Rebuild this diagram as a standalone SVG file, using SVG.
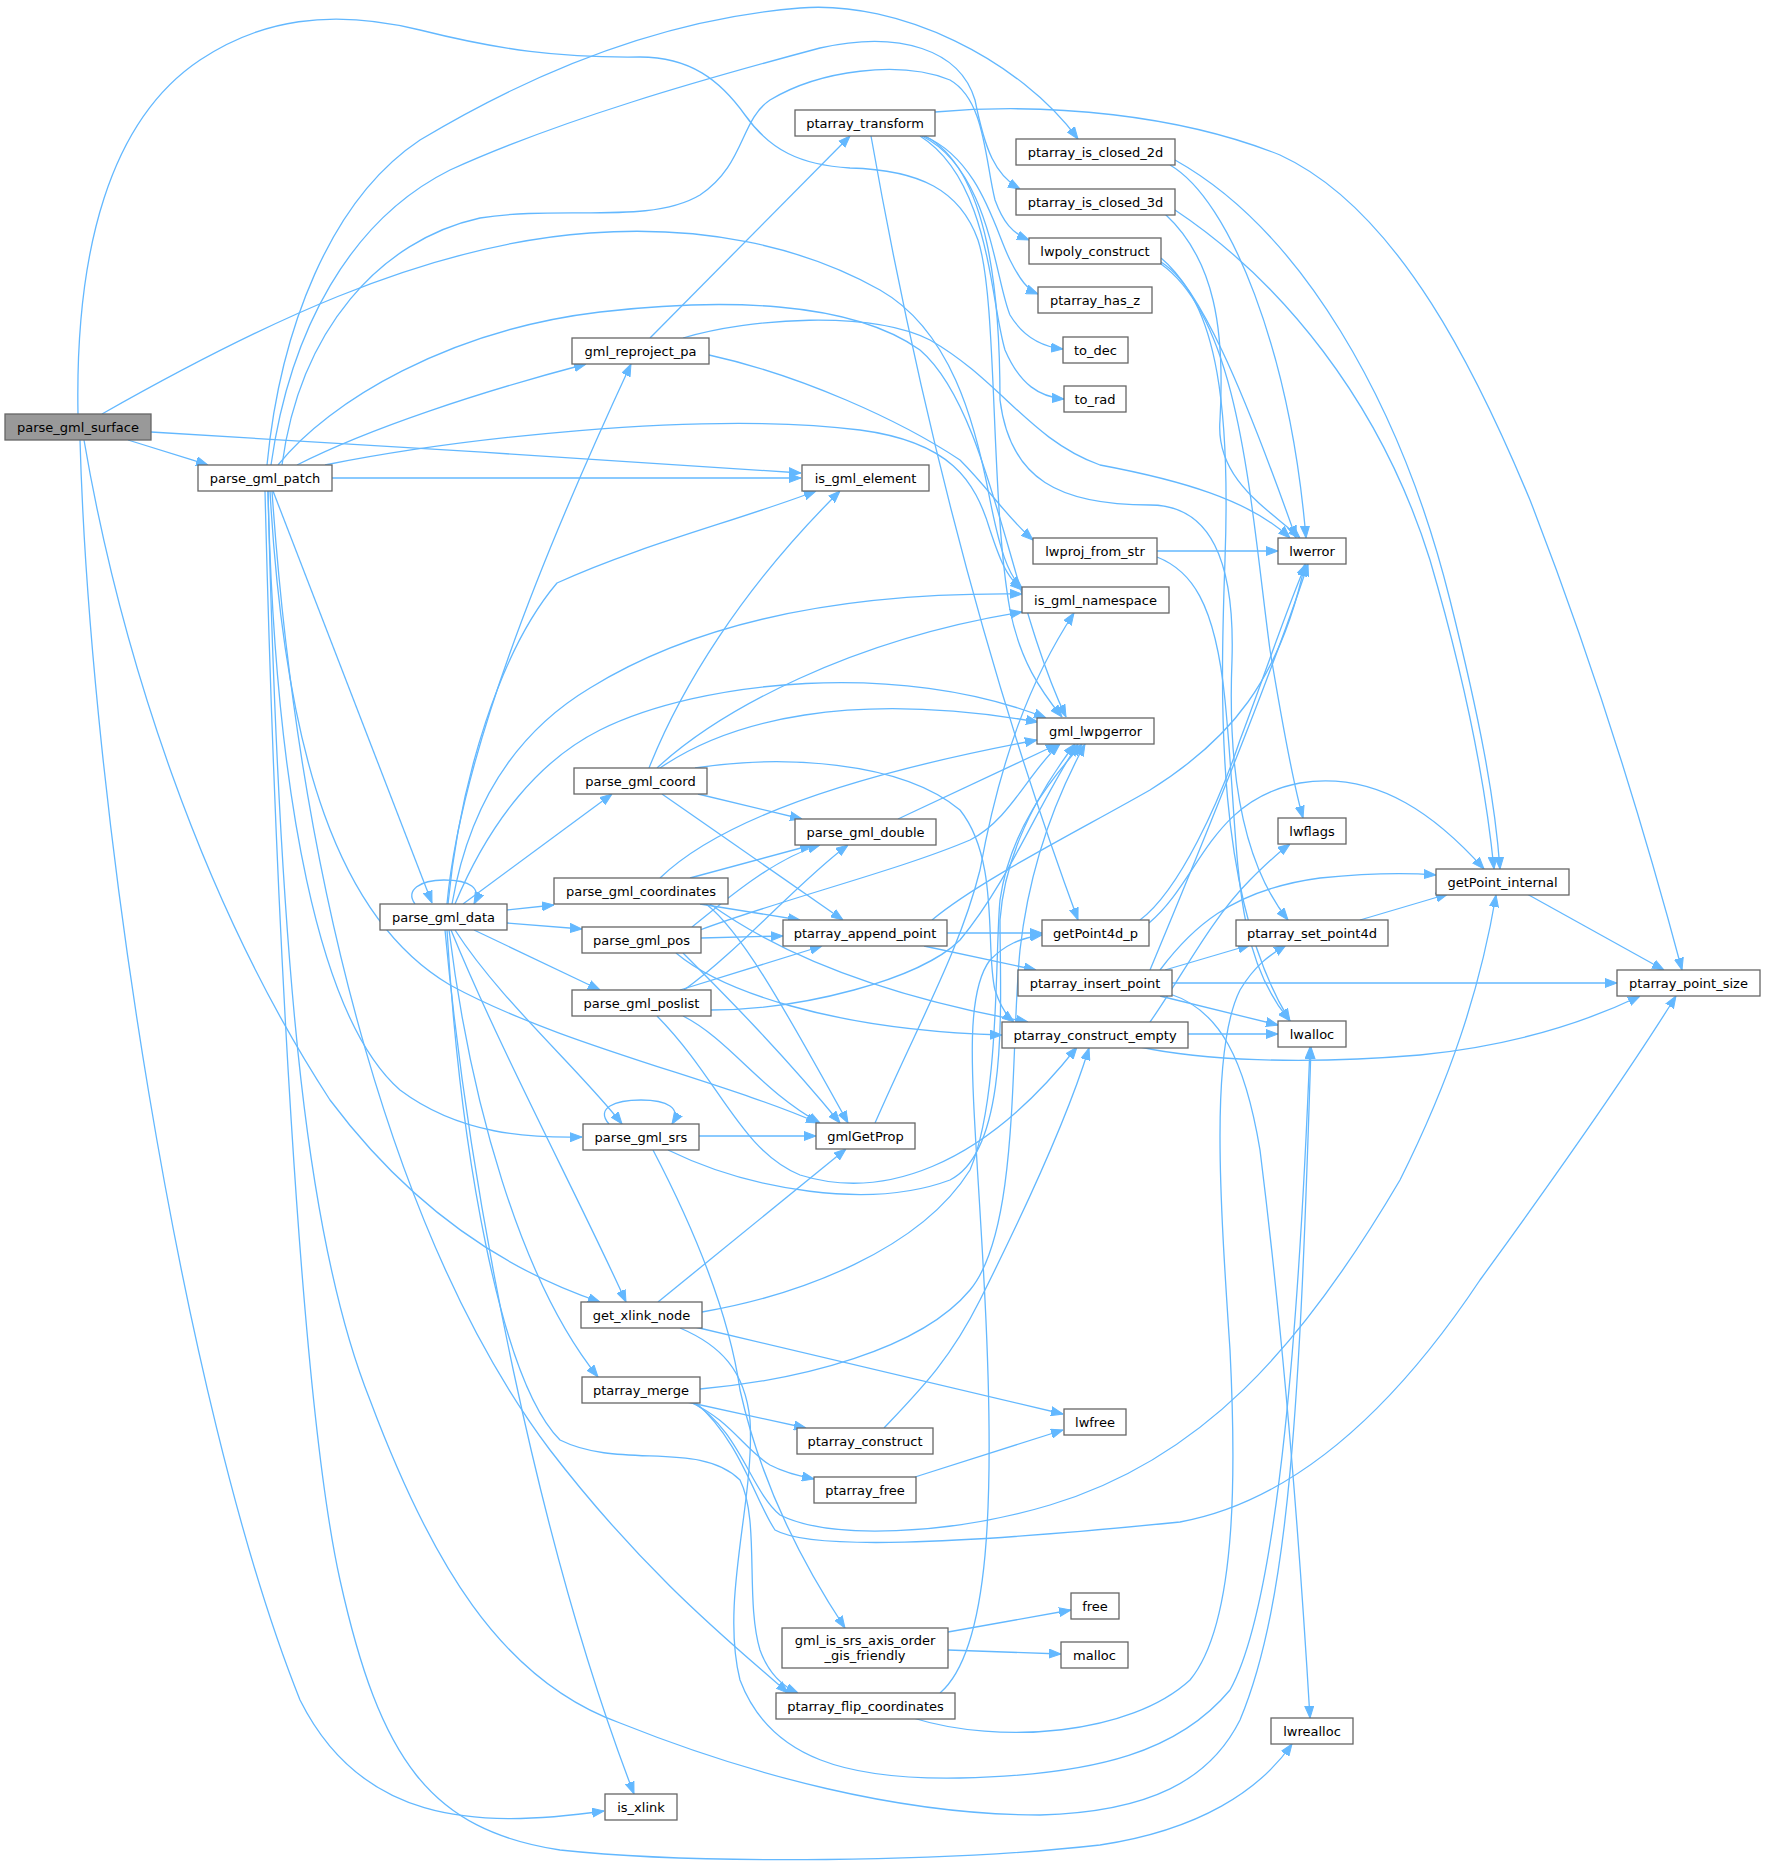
<svg xmlns="http://www.w3.org/2000/svg" width="1765" height="1866" viewBox="0 0 1765 1866">
<style>
.e{fill:none;stroke:#63b8ff;stroke-width:1.3;marker-end:url(#ah)}
.n rect{fill:#ffffff;stroke:#666666;stroke-width:1.3}
.n text{font-family:'DejaVu Sans','Liberation Sans',sans-serif;font-size:13px;fill:#000000;text-anchor:middle}
.root rect{fill:#999999}
</style>
<defs>
<marker id="ah" viewBox="0 0 12 10" refX="12" refY="5" markerWidth="12" markerHeight="10" markerUnits="userSpaceOnUse" orient="auto">
<path d="M0,0.5 L12,5 L0,9.5 z" fill="#63b8ff" stroke="#63b8ff" stroke-width="1"/>
</marker>
</defs>
<rect width="1765" height="1866" fill="#ffffff"/>
<g id="edges">
<path class="e" d="M128,440 C150,447 180,456 208,465"/>
<path class="e" d="M151,432 C350,443 600,460 801,473"/>
<path class="e" d="M102,414 C250,330 420,245 590,233 C700,225 800,245 880,290 C950,330 975,420 990,500 C1000,550 1008,575 1022,588"/>
<path class="e" d="M78,414 C75,250 110,120 200,60 C260,20 330,8 420,30 C500,50 560,58 640,57 C690,57 720,80 745,115 C770,150 800,165 850,168 C920,170 960,190 978,240 C998,300 990,500 1010,610 C1020,660 1040,690 1062,717"/>
<path class="e" d="M84,440 C120,650 200,900 330,1100 C420,1220 520,1275 600,1302"/>
<path class="e" d="M80,440 C90,800 180,1400 300,1700 C360,1820 470,1830 604,1811"/>
<path class="e" d="M332,478 L801,478"/>
<path class="e" d="M267,465 C280,330 330,200 420,140 C520,80 650,20 800,8 C900,0 1020,60 1078,139"/>
<path class="e" d="M271,465 C290,330 350,220 450,170 C560,120 700,80 820,48 C900,30 960,50 975,100 C985,150 995,175 1020,189"/>
<path class="e" d="M282,465 C300,330 380,240 480,218 C560,205 650,225 700,195 C745,165 740,120 770,100 C820,70 900,60 950,80 C985,100 985,160 995,200 C1003,222 1012,233 1029,240"/>
<path class="e" d="M278,465 C330,400 450,330 600,312 C720,298 850,300 920,350 C990,410 1010,600 1066,717"/>
<path class="e" d="M325,465 C450,440 700,410 860,430 C950,442 975,480 990,530 C1000,560 1006,576 1022,590"/>
<path class="e" d="M297,465 C370,428 480,392 586,364"/>
<path class="e" d="M273,491 L432,903"/>
<path class="e" d="M268,491 C275,800 320,1020 400,1090 C460,1135 530,1138 582,1137"/>
<path class="e" d="M270,491 C285,760 340,920 450,985 C560,1045 720,1080 818,1123"/>
<path class="e" d="M272,491 C300,900 400,1250 550,1450 C650,1580 740,1650 788,1693"/>
<path class="e" d="M268,491 C280,1000 310,1250 370,1400 C430,1560 500,1680 620,1723 C750,1775 900,1815 1040,1815 C1150,1812 1210,1780 1240,1720 C1290,1600 1300,1400 1311,1047"/>
<path class="e" d="M265,491 C275,900 300,1400 340,1580 C380,1760 430,1830 560,1850 C700,1865 950,1862 1100,1845 C1200,1830 1260,1790 1292,1744"/>
<path class="e" d="M415,904 C405,890 420,880 444,880 C470,880 482,888 474,904"/>
<path class="e" d="M448,904 C460,780 500,650 557,583 C640,545 740,520 816,491"/>
<path class="e" d="M447,904 C460,760 540,560 631,364"/>
<path class="e" d="M452,904 C470,800 520,730 590,688 C700,620 850,592 1022,594"/>
<path class="e" d="M455,904 C490,820 540,760 600,730 C700,680 900,660 1046,718"/>
<path class="e" d="M463,904 L612,794"/>
<path class="e" d="M507,910 L554,905"/>
<path class="e" d="M507,923 L582,929"/>
<path class="e" d="M474,930 L600,990"/>
<path class="e" d="M455,930 C500,1000 580,1070 622,1124"/>
<path class="e" d="M451,930 C500,1050 580,1200 626,1302"/>
<path class="e" d="M449,930 C470,1100 520,1280 598,1377"/>
<path class="e" d="M447,930 C460,1150 500,1380 560,1440 C620,1470 700,1440 740,1480 C760,1520 745,1600 760,1650 C768,1672 780,1685 798,1693"/>
<path class="e" d="M445,930 C470,1200 540,1550 634,1794"/>
<path class="e" d="M649,768 C680,690 740,590 840,491"/>
<path class="e" d="M657,768 C720,710 850,640 1022,612"/>
<path class="e" d="M660,768 C730,720 850,690 1038,722"/>
<path class="e" d="M698,794 L802,819"/>
<path class="e" d="M662,794 L843,920"/>
<path class="e" d="M695,768 C780,755 900,760 960,810 C1000,860 985,950 995,990 C1000,1005 1005,1015 1014,1022"/>
<path class="e" d="M898,819 L1058,744"/>
<path class="e" d="M660,878 C720,820 850,775 1037,740"/>
<path class="e" d="M690,878 L812,845"/>
<path class="e" d="M700,904 L800,920"/>
<path class="e" d="M706,904 C740,930 780,1000 848,1123"/>
<path class="e" d="M710,904 C760,940 850,990 1028,1022"/>
<path class="e" d="M701,938 L783,936"/>
<path class="e" d="M692,927 C720,905 770,860 820,845"/>
<path class="e" d="M700,930 C780,900 900,870 970,840 C1010,820 1030,770 1060,744"/>
<path class="e" d="M683,953 C720,990 780,1050 840,1123"/>
<path class="e" d="M676,953 C720,990 830,1030 1002,1035"/>
<path class="e" d="M680,990 L822,946"/>
<path class="e" d="M684,990 C740,950 800,880 848,845"/>
<path class="e" d="M711,1010 C800,1010 920,980 960,940 C1010,880 1040,800 1078,744"/>
<path class="e" d="M683,1016 C730,1040 760,1090 820,1123"/>
<path class="e" d="M657,1016 C720,1080 740,1150 800,1175 C880,1200 980,1170 1077,1047"/>
<path class="e" d="M609,1124 C595,1108 615,1100 641,1100 C667,1100 682,1108 672,1124"/>
<path class="e" d="M699,1136 L816,1136"/>
<path class="e" d="M668,1150 C750,1190 870,1210 950,1180 C1010,1150 1000,1000 1000,920 C1005,850 1040,790 1075,744"/>
<path class="e" d="M653,1150 C700,1240 730,1320 740,1390 C760,1480 800,1560 845,1628"/>
<path class="e" d="M658,1302 L846,1149"/>
<path class="e" d="M702,1312 C800,1295 920,1250 970,1170 C1000,1100 995,950 1000,900 C1010,830 1050,780 1082,744"/>
<path class="e" d="M695,1327 L1063,1414"/>
<path class="e" d="M680,1328 C720,1345 745,1370 750,1420 C755,1500 720,1600 740,1680 C770,1760 850,1780 960,1778 C1100,1775 1180,1750 1230,1690 C1280,1600 1300,1300 1310,1047"/>
<path class="e" d="M687,1402 L806,1428"/>
<path class="e" d="M690,1402 C730,1420 745,1450 770,1465 C785,1473 800,1476 814,1479"/>
<path class="e" d="M692,1402 C740,1430 750,1490 780,1515 C830,1540 950,1535 1050,1505 C1200,1460 1300,1350 1400,1180 C1450,1080 1480,990 1496,895"/>
<path class="e" d="M695,1402 C740,1440 755,1500 775,1530 C810,1550 950,1545 1180,1522 C1300,1500 1400,1400 1480,1280 C1560,1170 1630,1070 1676,996"/>
<path class="e" d="M700,1389 C800,1380 920,1350 970,1290 C1020,1230 1010,1050 1020,950 C1030,860 1060,790 1085,744"/>
<path class="e" d="M884,1428 C920,1390 950,1360 980,1300 C1030,1200 1070,1110 1089,1048"/>
<path class="e" d="M915,1477 L1063,1430"/>
<path class="e" d="M940,1693 C990,1650 995,1500 985,1300 C975,1100 960,1000 990,960 C1005,945 1020,938 1042,935"/>
<path class="e" d="M913,1718 C1000,1745 1130,1735 1190,1680 C1240,1620 1235,1450 1230,1350 C1220,1200 1210,1050 1240,990 C1255,965 1270,955 1286,945"/>
<path class="e" d="M948,1632 L1071,1610"/>
<path class="e" d="M948,1650 L1061,1654"/>
<path class="e" d="M935,112 C1050,102 1180,115 1280,155 C1400,210 1480,380 1530,500 C1600,680 1650,850 1682,970"/>
<path class="e" d="M924,136 C980,160 995,230 1010,260 C1020,280 1028,290 1038,294"/>
<path class="e" d="M922,136 C990,170 995,280 1010,315 C1025,340 1045,347 1063,349"/>
<path class="e" d="M920,136 C990,180 990,300 1005,350 C1020,385 1040,397 1064,399"/>
<path class="e" d="M871,136 C900,300 960,600 1078,920"/>
<path class="e" d="M925,136 C990,170 1000,300 1000,400 C1010,480 1060,505 1150,505 C1210,505 1235,560 1232,660 C1228,760 1240,860 1288,920"/>
<path class="e" d="M650,338 L850,136"/>
<path class="e" d="M683,338 C750,318 870,310 930,340 C1000,380 1030,440 1100,465 C1180,480 1250,500 1290,538"/>
<path class="e" d="M709,355 C800,375 900,420 960,460 C990,490 1005,515 1033,540"/>
<path class="e" d="M1170,165 C1230,200 1290,350 1306,538"/>
<path class="e" d="M1175,160 C1300,230 1400,400 1450,600 C1480,720 1495,800 1500,869"/>
<path class="e" d="M1165,214 C1215,260 1225,330 1220,420 C1215,480 1270,510 1300,538"/>
<path class="e" d="M1175,210 C1280,280 1380,400 1430,560 C1465,680 1485,780 1494,869"/>
<path class="e" d="M1161,258 C1200,290 1240,380 1296,538"/>
<path class="e" d="M1161,262 C1220,300 1230,420 1225,560 C1220,700 1215,900 1290,1021"/>
<path class="e" d="M1161,264 C1240,320 1250,500 1270,650 C1285,740 1295,790 1303,818"/>
<path class="e" d="M1157,551 L1278,551"/>
<path class="e" d="M1157,557 C1190,570 1215,600 1225,700 C1240,850 1230,950 1290,1021"/>
<path class="e" d="M1140,920 C1180,890 1220,800 1240,740 C1270,660 1290,600 1306,564"/>
<path class="e" d="M1149,923 C1200,880 1210,800 1300,783 C1380,770 1440,820 1484,869"/>
<path class="e" d="M947,933 L1042,933"/>
<path class="e" d="M924,946 L1036,970"/>
<path class="e" d="M932,920 C980,880 1080,830 1150,790 C1230,740 1280,680 1305,564"/>
<path class="e" d="M1172,983 L1617,983"/>
<path class="e" d="M1165,970 L1250,945"/>
<path class="e" d="M1160,970 C1190,930 1230,890 1320,878 C1370,873 1410,873 1436,875"/>
<path class="e" d="M1160,996 L1278,1025"/>
<path class="e" d="M1150,970 C1200,850 1270,680 1308,564"/>
<path class="e" d="M1170,994 C1220,1010 1245,1060 1260,1150 C1285,1350 1300,1550 1310,1718"/>
<path class="e" d="M1360,920 L1448,894"/>
<path class="e" d="M1527,894 L1664,970"/>
<path class="e" d="M1188,1034 L1278,1034"/>
<path class="e" d="M1150,1022 C1180,980 1210,920 1250,880 C1265,865 1275,855 1290,844"/>
<path class="e" d="M1140,1047 C1200,1060 1300,1065 1420,1055 C1520,1045 1590,1020 1640,996"/>
<path class="e" d="M875,1123 C920,1020 960,950 980,870 C1000,760 1030,680 1074,613"/>
</g>
<g id="n_parse_gml_surface" class="n root"><rect x="5" y="414" width="146" height="26"/><text x="78" y="431.5">parse_gml_surface</text></g>
<g id="n_parse_gml_patch" class="n"><rect x="198" y="465" width="134" height="26"/><text x="265" y="482.5">parse_gml_patch</text></g>
<g id="n_parse_gml_data" class="n"><rect x="380" y="904" width="127" height="26"/><text x="443.5" y="921.5">parse_gml_data</text></g>
<g id="n_is_gml_element" class="n"><rect x="802" y="465" width="127" height="26"/><text x="865.5" y="482.5">is_gml_element</text></g>
<g id="n_ptarray_transform" class="n"><rect x="795" y="110" width="140" height="26"/><text x="865" y="127.5">ptarray_transform</text></g>
<g id="n_ptarray_is_closed_2d" class="n"><rect x="1016" y="139" width="159" height="26"/><text x="1095.5" y="156.5">ptarray_is_closed_2d</text></g>
<g id="n_ptarray_is_closed_3d" class="n"><rect x="1016" y="189" width="159" height="26"/><text x="1095.5" y="206.5">ptarray_is_closed_3d</text></g>
<g id="n_lwpoly_construct" class="n"><rect x="1029" y="238" width="132" height="26"/><text x="1095" y="255.5">lwpoly_construct</text></g>
<g id="n_ptarray_has_z" class="n"><rect x="1038" y="287" width="114" height="26"/><text x="1095" y="304.5">ptarray_has_z</text></g>
<g id="n_to_dec" class="n"><rect x="1063" y="337" width="65" height="26"/><text x="1095.5" y="354.5">to_dec</text></g>
<g id="n_to_rad" class="n"><rect x="1064" y="386" width="62" height="26"/><text x="1095" y="403.5">to_rad</text></g>
<g id="n_gml_reproject_pa" class="n"><rect x="572" y="338" width="137" height="26"/><text x="640.5" y="355.5">gml_reproject_pa</text></g>
<g id="n_lwproj_from_str" class="n"><rect x="1033" y="538" width="124" height="26"/><text x="1095" y="555.5">lwproj_from_str</text></g>
<g id="n_is_gml_namespace" class="n"><rect x="1022" y="587" width="147" height="26"/><text x="1095.5" y="604.5">is_gml_namespace</text></g>
<g id="n_gml_lwpgerror" class="n"><rect x="1037" y="718" width="117" height="26"/><text x="1095.5" y="735.5">gml_lwpgerror</text></g>
<g id="n_parse_gml_coord" class="n"><rect x="574" y="768" width="133" height="26"/><text x="640.5" y="785.5">parse_gml_coord</text></g>
<g id="n_parse_gml_double" class="n"><rect x="795" y="819" width="141" height="26"/><text x="865.5" y="836.5">parse_gml_double</text></g>
<g id="n_parse_gml_coordinates" class="n"><rect x="554" y="878" width="174" height="26"/><text x="641" y="895.5">parse_gml_coordinates</text></g>
<g id="n_ptarray_append_point" class="n"><rect x="783" y="920" width="164" height="26"/><text x="865" y="937.5">ptarray_append_point</text></g>
<g id="n_getPoint4d_p" class="n"><rect x="1042" y="920" width="107" height="26"/><text x="1095.5" y="937.5">getPoint4d_p</text></g>
<g id="n_parse_gml_pos" class="n"><rect x="582" y="927" width="119" height="26"/><text x="641.5" y="944.5">parse_gml_pos</text></g>
<g id="n_ptarray_insert_point" class="n"><rect x="1018" y="970" width="154" height="26"/><text x="1095" y="987.5">ptarray_insert_point</text></g>
<g id="n_parse_gml_poslist" class="n"><rect x="572" y="990" width="139" height="26"/><text x="641.5" y="1007.5">parse_gml_poslist</text></g>
<g id="n_ptarray_construct_empty" class="n"><rect x="1002" y="1022" width="186" height="26"/><text x="1095" y="1039.5">ptarray_construct_empty</text></g>
<g id="n_gmlGetProp" class="n"><rect x="816" y="1123" width="99" height="26"/><text x="865.5" y="1140.5">gmlGetProp</text></g>
<g id="n_parse_gml_srs" class="n"><rect x="583" y="1124" width="116" height="26"/><text x="641" y="1141.5">parse_gml_srs</text></g>
<g id="n_get_xlink_node" class="n"><rect x="581" y="1302" width="121" height="26"/><text x="641.5" y="1319.5">get_xlink_node</text></g>
<g id="n_ptarray_merge" class="n"><rect x="582" y="1377" width="118" height="26"/><text x="641" y="1394.5">ptarray_merge</text></g>
<g id="n_lwfree" class="n"><rect x="1064" y="1409" width="62" height="26"/><text x="1095" y="1426.5">lwfree</text></g>
<g id="n_ptarray_construct" class="n"><rect x="797" y="1428" width="136" height="26"/><text x="865" y="1445.5">ptarray_construct</text></g>
<g id="n_ptarray_free" class="n"><rect x="814" y="1477" width="102" height="26"/><text x="865" y="1494.5">ptarray_free</text></g>
<g id="n_free" class="n"><rect x="1071" y="1593" width="48" height="26"/><text x="1095" y="1610.5">free</text></g>
<g id="n_gml_is_srs_axis_order_gis_friendly" class="n"><rect x="782" y="1628" width="166" height="40"/><text x="865" y="1645">gml_is_srs_axis_order</text><text x="865" y="1660">_gis_friendly</text></g>
<g id="n_malloc" class="n"><rect x="1061" y="1642" width="67" height="26"/><text x="1094.5" y="1659.5">malloc</text></g>
<g id="n_ptarray_flip_coordinates" class="n"><rect x="776" y="1693" width="179" height="26"/><text x="865.5" y="1710.5">ptarray_flip_coordinates</text></g>
<g id="n_lwrealloc" class="n"><rect x="1271" y="1718" width="82" height="26"/><text x="1312" y="1735.5">lwrealloc</text></g>
<g id="n_is_xlink" class="n"><rect x="605" y="1794" width="72" height="26"/><text x="641" y="1811.5">is_xlink</text></g>
<g id="n_lwerror" class="n"><rect x="1278" y="538" width="68" height="26"/><text x="1312" y="555.5">lwerror</text></g>
<g id="n_lwflags" class="n"><rect x="1278" y="818" width="68" height="26"/><text x="1312" y="835.5">lwflags</text></g>
<g id="n_getPoint_internal" class="n"><rect x="1436" y="869" width="133" height="26"/><text x="1502.5" y="886.5">getPoint_internal</text></g>
<g id="n_ptarray_set_point4d" class="n"><rect x="1236" y="920" width="152" height="26"/><text x="1312" y="937.5">ptarray_set_point4d</text></g>
<g id="n_ptarray_point_size" class="n"><rect x="1617" y="970" width="143" height="26"/><text x="1688.5" y="987.5">ptarray_point_size</text></g>
<g id="n_lwalloc" class="n"><rect x="1278" y="1021" width="68" height="26"/><text x="1312" y="1038.5">lwalloc</text></g>
</svg>
